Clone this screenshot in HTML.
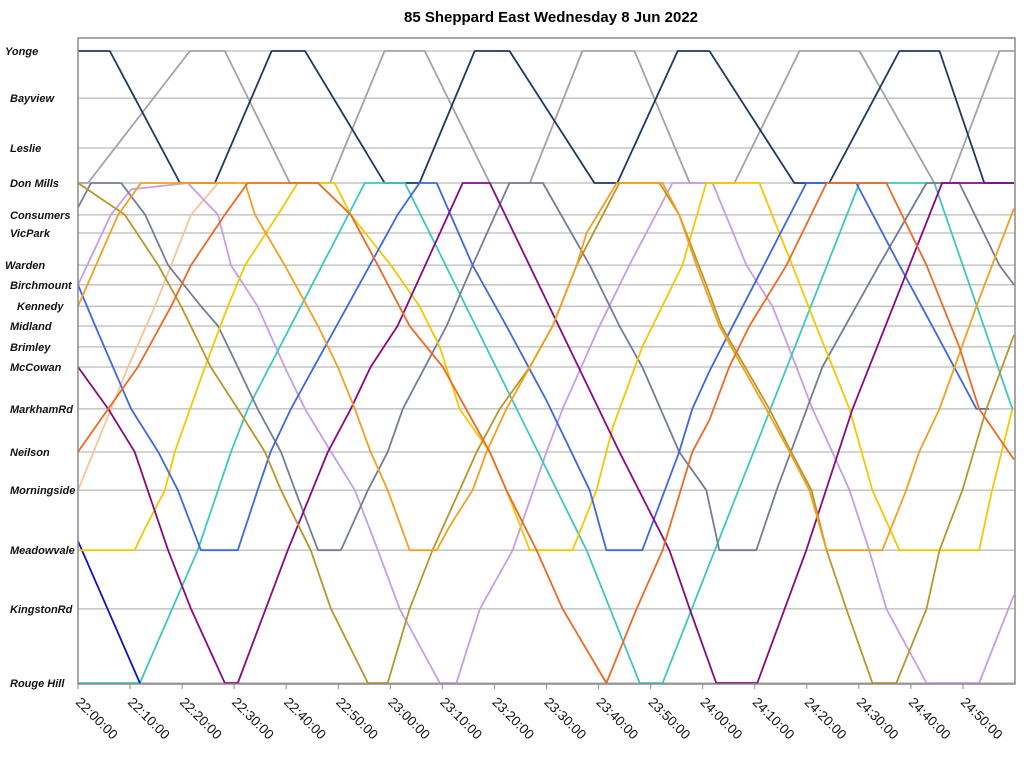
<!DOCTYPE html>
<html><head><meta charset="utf-8">
<style>
html,body{margin:0;padding:0;background:#fff;}
svg{display:block;font-family:"Liberation Sans",Arial,sans-serif;}
</style></head>
<body>
<svg id="chart" width="1024" height="759" viewBox="0 0 1024 759" xmlns="http://www.w3.org/2000/svg">
<text x="551" y="22" text-anchor="middle" font-size="15" font-weight="bold">85 Sheppard East Wednesday 8 Jun 2022</text>
<g id="grid"></g>
<g id="ylabels"></g>
<g id="series"></g>
<rect x="78" y="38" width="937" height="646" fill="none" stroke="#8a8a8a" stroke-width="1.5"/>
<g id="xaxis"></g>
</svg>
<script>
const stopNames = ["Yonge","Bayview","Leslie","Don Mills","Consumers","VicPark","Warden","Birchmount","Kennedy","Midland","Brimley","McCowan","MarkhamRd","Neilson","Morningside","Meadowvale","KingstonRd","Rouge Hill"];
const stopKm = [0,1.17,2.41,3.28,4.07,4.52,5.32,5.81,6.34,6.83,7.35,7.85,8.89,9.96,10.91,12.40,13.86,15.70];
const labelIndent = [5,10,10,10,10,10,5,10,17,10,10,10,10,10,10,10,10,10];
const tickLabels = ["22:00:00","22:10:00","22:20:00","22:30:00","22:40:00","22:50:00","23:00:00","23:10:00","23:20:00","23:30:00","23:40:00","23:50:00","24:00:00","24:10:00","24:20:00","24:30:00","24:40:00","24:50:00"];
const tickMinutes = [0,10,20,30,40,50,60,70,80,90,100,110,120,130,140,150,160,170];

// each bus: times (minutes after 22:00) and stop index positions
const navyT = [0,6.1,19.6,26.3,37.2,43.6,58.9,65.6,76.2,82.9,99.2,103.6,115.2,121.3,137.6,144.3,157.8,165.5,174.1,179.8];
const navyS = [0,0,3,3,0,0,3,3,0,0,3,3,0,0,3,3,0,0,3,3];
const grayT = [0,1.9,21.5,28.2,40.7,48.4,58.9,66.6,79.1,86.8,96.9,106.9,117.5,126.1,138.6,150.1,164.5,167.4,177.0,179.8];
const grayS = [3,3,0,0,3,3,0,0,3,3,0,0,3,3,0,0,3,3,0,0];
const tealT = [0,11.9,23.0,29.4,32.6,55.1,62.8,97.7,107.9,112.3,150.1,164.5,179.5];
const tealS = [17,17,15,13,12,3,3,15,17,17,3,3,12];
const darkBlueT = [0,11.9];
const darkBlueS = [14.85,17];
const purpleT = [0,5.8,10.9,17.3,21.7,28.2,30.7,40.3,48.0,52.4,56.2,61.4,73.9,79.1,104.0,113.6,117.5,122.6,130.5,139.9,148.8,166.0,179.8];
const purpleS = [11,12,13,15,16,17,17,15,13,12,11,9,3,3,13,15,16,17,17,15,12,3,3];
const blueT = [0,3.3,10.2,15.4,19.2,23.6,30.7,34.5,37.0,40.9,61.4,65.6,68.9,75.8,82.3,90.0,98.3,101.5,108.4,115.5,118.0,121.3,139.9,149.5,157.8,164.1,172.6,175.0];
const blueS = [7,9,12,13,14,15,15,14,13,12,4,3,3,6,9,11.8,14,15,15,13,12,11.1,3,3,6,9,12,12];
const redOrangeT = [0,5.8,11.5,17.9,21.7,28.2,32.6,46.1,52.4,57.6,63.7,70.1,79.1,82.3,88.1,93.1,101.5,107.3,112.3,118.0,121.3,125.1,129.0,136.1,143.8,155.3,163.0,169.3,173.1,179.8];
const redOrangeS = [13,12,11,8,6,4,3,3,4,6,9,11,13,14,15,16,17,16,15,13,12.26,11,9,6,3,3,6,10,12,13.2];
const peachT = [0,9.6,14.8,21.7,26.9,30.1];
const peachS = [14,11,8,4,3,3];
const yellowT = [0,10.9,12.9,16.7,18.6,24.4,28.8,32.1,38.4,42.2,49.3,52.4,60.1,65.6,69.5,73.3,79.1,82.3,86.8,95.0,99.6,102.7,108.4,116.1,120.7,130.9,137.2,141.8,148.2,152.6,157.8,173.1,175.6,179.5];
const yellowS = [15,15,14.63,14,13,11,8,6,4,3,3,4,6,8,10,12,13,14,15,15,14,12.44,10,6,3,3,6,9,12,14,15,15,14,12];
const slateT = [0,2.5,8.3,12.9,17.3,23.6,26.9,30.7,34.5,39.0,41.7,46.1,50.5,55.7,59.5,62.4,70.8,75.8,82.9,89.3,98.3,104.0,108.4,115.5,120.7,123.2,130.3,134.2,143.0,153.9,163.0,169.3,177.0,179.8];
const slateS = [3.77,3,3,4,6,8,9,11,12,13,14,15,15,14,13,12,9,6,3,3,6,9,11,13,14,15,15,14,11,6,3,3,6,7];
const lavenderT = [0,6.3,10.2,21.1,26.9,29.4,34.5,39.7,43.6,48.6,53.2,57.6,61.8,69.5,72.7,77.2,83.5,90.0,93.1,100.2,105.9,114.2,121.9,128.4,133.4,138.0,141.1,144.9,148.2,152.0,155.3,163.0,173.1,179.8];
const lavenderS = [7,4,3.2,3,4,6,8,11,12,13,14,15,16,17,17,16,15,13,12,9,6,3,3,6,8,11,12,13,14,15,16,17,17,15.76];
const orangeT = [0,7.7,12.1,32.1,34.0,39.7,46.1,49.9,53.2,56.2,59.5,63.7,68.9,71.4,75.8,78.5,82.3,86.8,91.2,95.8,97.7,103.5,112.3,115.5,118.8,123.2,132.2,136.7,140.5,143.8,154.5,159.1,161.6,165.5,172.6,175.6,179.8];
const orangeS = [8,4,3,3,4,6,9,11,12,13,14,15,15,14.6,14,13,12,11,9,6,5,3,3,4,6,9,12,13,14,15,15,14,13,12,8,6,3.8];
const oliveT = [0,9.0,15.4,19.8,25.5,30.7,35.9,39.0,44.7,48.6,55.7,59.5,63.7,68.1,73.3,76.6,81.0,86.8,91.2,95.8,104.0,111.7,115.5,120.7,123.6,132.8,137.0,140.9,143.8,147.6,152.6,157.2,163.0,165.5,169.9,174.5,179.8];
const oliveS = [3,4,6,8,11,12,13,14,15,16,17,17,16,15,14,13,12,11,9,6,3,3,4,7,9,12,13,14,15,16,17,17,16,15,14,12,9.43];

const buses = [
  ["bus-trace-gray", grayT, grayS, "#a3a3a3"],
  ["bus-trace-navy", navyT, navyS, "#1c3a63"],
  ["bus-trace-peach", peachT, peachS, "#f5c59a"],
  ["bus-trace-lavender", lavenderT, lavenderS, "#c59ee8"],
  ["bus-trace-teal", tealT, tealS, "#3cc8c0"],
  ["bus-trace-dark-blue", darkBlueT, darkBlueS, "#1010c8"],
  ["bus-trace-slate", slateT, slateS, "#767c96"],
  ["bus-trace-yellow", yellowT, yellowS, "#f5c800"],
  ["bus-trace-blue", blueT, blueS, "#3f68dc"],
  ["bus-trace-purple", purpleT, purpleS, "#880a80"],
  ["bus-trace-olive", oliveT, oliveS, "#b8962a"],
  ["bus-trace-orange", orangeT, orangeS, "#f2a020"],
  ["bus-trace-red-orange", redOrangeT, redOrangeS, "#ee6a24"]
];

const NS = "http://www.w3.org/2000/svg";
const X0 = 78, X1 = 1015, TMAX = 180;
const Y0 = 51, Y1 = 683, KMAX = 15.70;
function xScale(m){ return X0 + (m / TMAX) * (X1 - X0); }
function yScale(km){ return Y0 + (km / KMAX) * (Y1 - Y0); }
function kmAt(s){ const i = Math.floor(s); if (i >= stopKm.length - 1) return stopKm[stopKm.length-1]; const f = s - i; return stopKm[i] + f * (stopKm[i+1] - stopKm[i]); }
function mk(tag, attrs){ const e = document.createElementNS(NS, tag); for (const k in attrs) e.setAttribute(k, attrs[k]); return e; }

const grid = document.getElementById('grid');
const ylab = document.getElementById('ylabels');
stopNames.forEach((n, i) => {
  const y = yScale(stopKm[i]);
  const l = mk('line', {x1: X0, x2: X1, y1: y, y2: y, stroke: '#a8a8a8', 'stroke-width': 1});
  
  
  grid.appendChild(l);
  const t = mk('text', {x: labelIndent[i], y: y + 4, 'font-size': 11, 'font-weight': 'bold', 'font-style': 'italic', fill: '#111'});
  t.textContent = n;
  
  
  ylab.appendChild(t);
});

const sg = document.getElementById('series');
buses.forEach(b => {
  const [name, T, S, color] = b;
  const pts = T.map((m, i) => xScale(m).toFixed(1) + ',' + yScale(kmAt(S[i])).toFixed(1)).join(' ');
  const p = mk('polyline', {points: pts, fill: 'none', stroke: color, 'stroke-width': 1.8, 'stroke-linejoin': 'round'});
  
  
  sg.appendChild(p);
});

const xa = document.getElementById('xaxis');
tickMinutes.forEach((m, i) => {
  const x = xScale(m);
  const tk = mk('line', {x1: x, x2: x, y1: 684, y2: 689, stroke: '#8a8a8a', 'stroke-width': 1});
  
  
  xa.appendChild(tk);
  const t = mk('text', {x: 0, y: 0, 'font-size': 13.5, fill: '#111', transform: 'translate(' + (x - 3) + ',703) rotate(45)'});
  t.textContent = tickLabels[i];
  
  
  xa.appendChild(t);
});
</script>
</body></html>
